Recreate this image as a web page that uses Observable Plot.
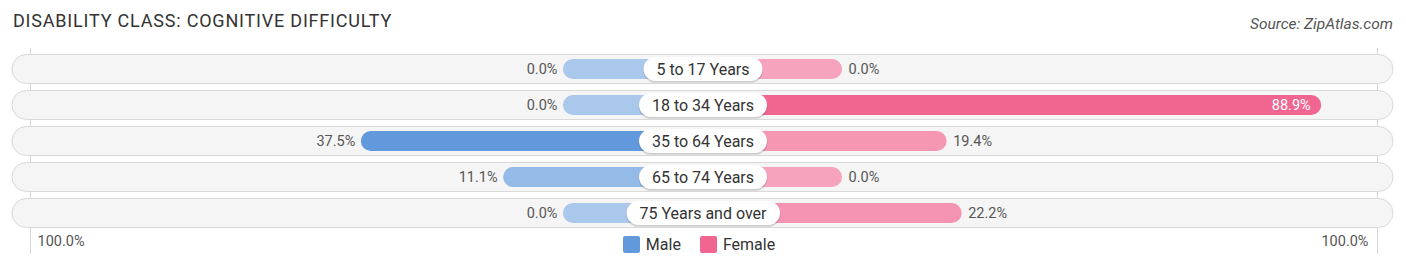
<!DOCTYPE html>
<html>
<head>
<meta charset="utf-8">
<script src="https://cdn.jsdelivr.net/npm/d3@7"></script>
<script src="https://cdn.jsdelivr.net/npm/@observablehq/plot@0.6"></script>
<style>
  body { margin: 0; background: #fff; font-family: Roboto, "Noto Sans", sans-serif; }
  #wrap { position: relative; width: 1406px; height: 270px; overflow: hidden; }
  #title { position: absolute; left: 13px; top: 10px; font-size: 18px; color: #333; letter-spacing: 0.8px; }
  #source { position: absolute; right: 13px; top: 15px; font-size: 15.5px; color: #555; font-style: italic; }
  #chart { position: absolute; left: 0; top: 40px; }
  #legend { position: absolute; top: 235px; left: -4px; width: 1406px; display: flex; justify-content: center; gap: 19px; font-size: 16px; color: #333; }
  .item { display: flex; align-items: center; gap: 6px; }
  .sw { width: 17px; height: 17px; border-radius: 2px; display: inline-block; }
</style>
</head>
<body>
<div id="wrap">
  <div id="title">DISABILITY CLASS: COGNITIVE DIFFICULTY</div>
  <div id="source">Source: ZipAtlas.com</div>
  <div id="chart"></div>
  <div id="legend"></div>
</div>
<script>
const categories = ["5 to 17 Years", "18 to 34 Years", "35 to 64 Years", "65 to 74 Years", "75 Years and over"];
const male = [0.0, 0.0, 37.5, 11.1, 0.0];
const female = [0.0, 88.9, 19.4, 0.0, 22.2];
const seriesNames = ["Male", "Female"];
const axisLabels = ["100.0%", "100.0%"];

const off = 25.9;          // stub length (in % units) hidden under the label pill
const span = 100 + off;

const maleDark = "#6199dc", maleLight = "#aac8ec";
const femDark = "#f06690", femLight = "#f6a3bd";
const maxM = d3.max(male), maxF = d3.max(female);

const rows = categories.map((c, i) => ({cat: c, male: male[i], female: female[i]}));
const mBars = rows.map(r => ({cat: r.cat, v: r.male, x2: -(off + r.male),
  fill: d3.interpolateRgb(maleLight, maleDark)(maxM ? r.male / maxM : 0)}));
const fBars = rows.map(r => ({cat: r.cat, v: r.female, x2: off + r.female,
  fill: d3.interpolateRgb(femLight, femDark)(maxF ? r.female / maxF : 0)}));
const fmt = v => v.toFixed(1) + "%";
const inside = d => d.v > 70;

const font = "Roboto, 'Noto Sans', sans-serif";
const plot = Plot.plot({
  width: 1406,
  height: 230,
  marginLeft: 24,
  marginRight: 25,
  marginTop: 11,
  marginBottom: 39,
  style: {fontFamily: font, background: "transparent"},
  x: {domain: [-span, span], axis: null},
  y: {domain: categories, axis: null, padding: 0},
  marks: [
    Plot.ruleX([-span], {stroke: "#d8d8d8", strokeWidth: 1, dx: 6, insetTop: -3, insetBottom: -23}),
    Plot.ruleX([span], {stroke: "#d8d8d8", strokeWidth: 1, dx: -4, insetTop: -3, insetBottom: -23}),
    Plot.barX(rows, {x1: -span, x2: span, y: "cat", fill: "#f5f5f5", stroke: "#d9d9d9", strokeWidth: 1, rx: 14.5, insetLeft: -12, insetRight: -12, insetTop: 3.5, insetBottom: 3.5}),
    Plot.barX(mBars, {x1: 0, x2: "x2", y: "cat", fill: "fill", rx: 10, insetTop: 8, insetBottom: 8}),
    Plot.barX(fBars, {x1: 0, x2: "x2", y: "cat", fill: "fill", rx: 10, insetTop: 8, insetBottom: 8}),
    Plot.text(mBars, {x: "x2", y: "cat", text: d => fmt(d.v), textAnchor: "end", dx: -6, fontSize: 14.5, fill: "#555"}),
    Plot.text(fBars.filter(d => !inside(d)), {x: "x2", y: "cat", text: d => fmt(d.v), textAnchor: "start", dx: 6, fontSize: 14.5, fill: "#555"}),
    Plot.text(fBars.filter(inside), {x: "x2", y: "cat", text: d => fmt(d.v), textAnchor: "end", dx: -11, fontSize: 14.5, fill: "#fff"}),
    Plot.text(rows, {x: 0, y: "cat", text: "cat", fontSize: 16, fill: "#333"}),
    Plot.text([axisLabels[0]], {x: -span, text: d => d, textAnchor: "start", frameAnchor: "bottom", dy: 14, dx: 13, fontSize: 14.5, fill: "#555"}),
    Plot.text([axisLabels[1]], {x: span, text: d => d, textAnchor: "end", frameAnchor: "bottom", dy: 14, dx: -13, fontSize: 14.5, fill: "#555"})
  ]
});
document.getElementById("chart").appendChild(plot);

// white pill backgrounds behind the category labels
const NS = "http://www.w3.org/2000/svg";
Array.from(plot.querySelectorAll("text"))
  .filter(t => categories.includes(t.textContent))
  .forEach(t => {
    const b = t.getBBox();
    const cy = b.y + b.height / 2;
    const tr = t.getAttribute("transform");
    const mk = (dy, grow, fill) => {
      const r = document.createElementNS(NS, "rect");
      r.setAttribute("x", b.x - 13 - grow);
      r.setAttribute("width", b.width + 26 + 2 * grow);
      r.setAttribute("y", cy - 12 + dy - grow);
      r.setAttribute("height", 24 + 2 * grow);
      r.setAttribute("rx", 12 + grow);
      r.setAttribute("fill", fill);
      if (tr) r.setAttribute("transform", tr);
      t.parentNode.insertBefore(r, t);
    };
    mk(1.5, 0.5, "rgba(0,0,0,0.10)");
    mk(1, 0, "rgba(0,0,0,0.08)");
    mk(0, 0, "#ffffff");
  });

// legend
const leg = document.getElementById("legend");
seriesNames.forEach((n, i) => {
  const it = document.createElement("div"); it.className = "item";
  const sw = document.createElement("span"); sw.className = "sw";
  sw.style.background = i === 0 ? maleDark : femDark;
  const tx = document.createElement("span"); tx.textContent = n;
  it.appendChild(sw); it.appendChild(tx); leg.appendChild(it);
});
</script>
</body>
</html>
